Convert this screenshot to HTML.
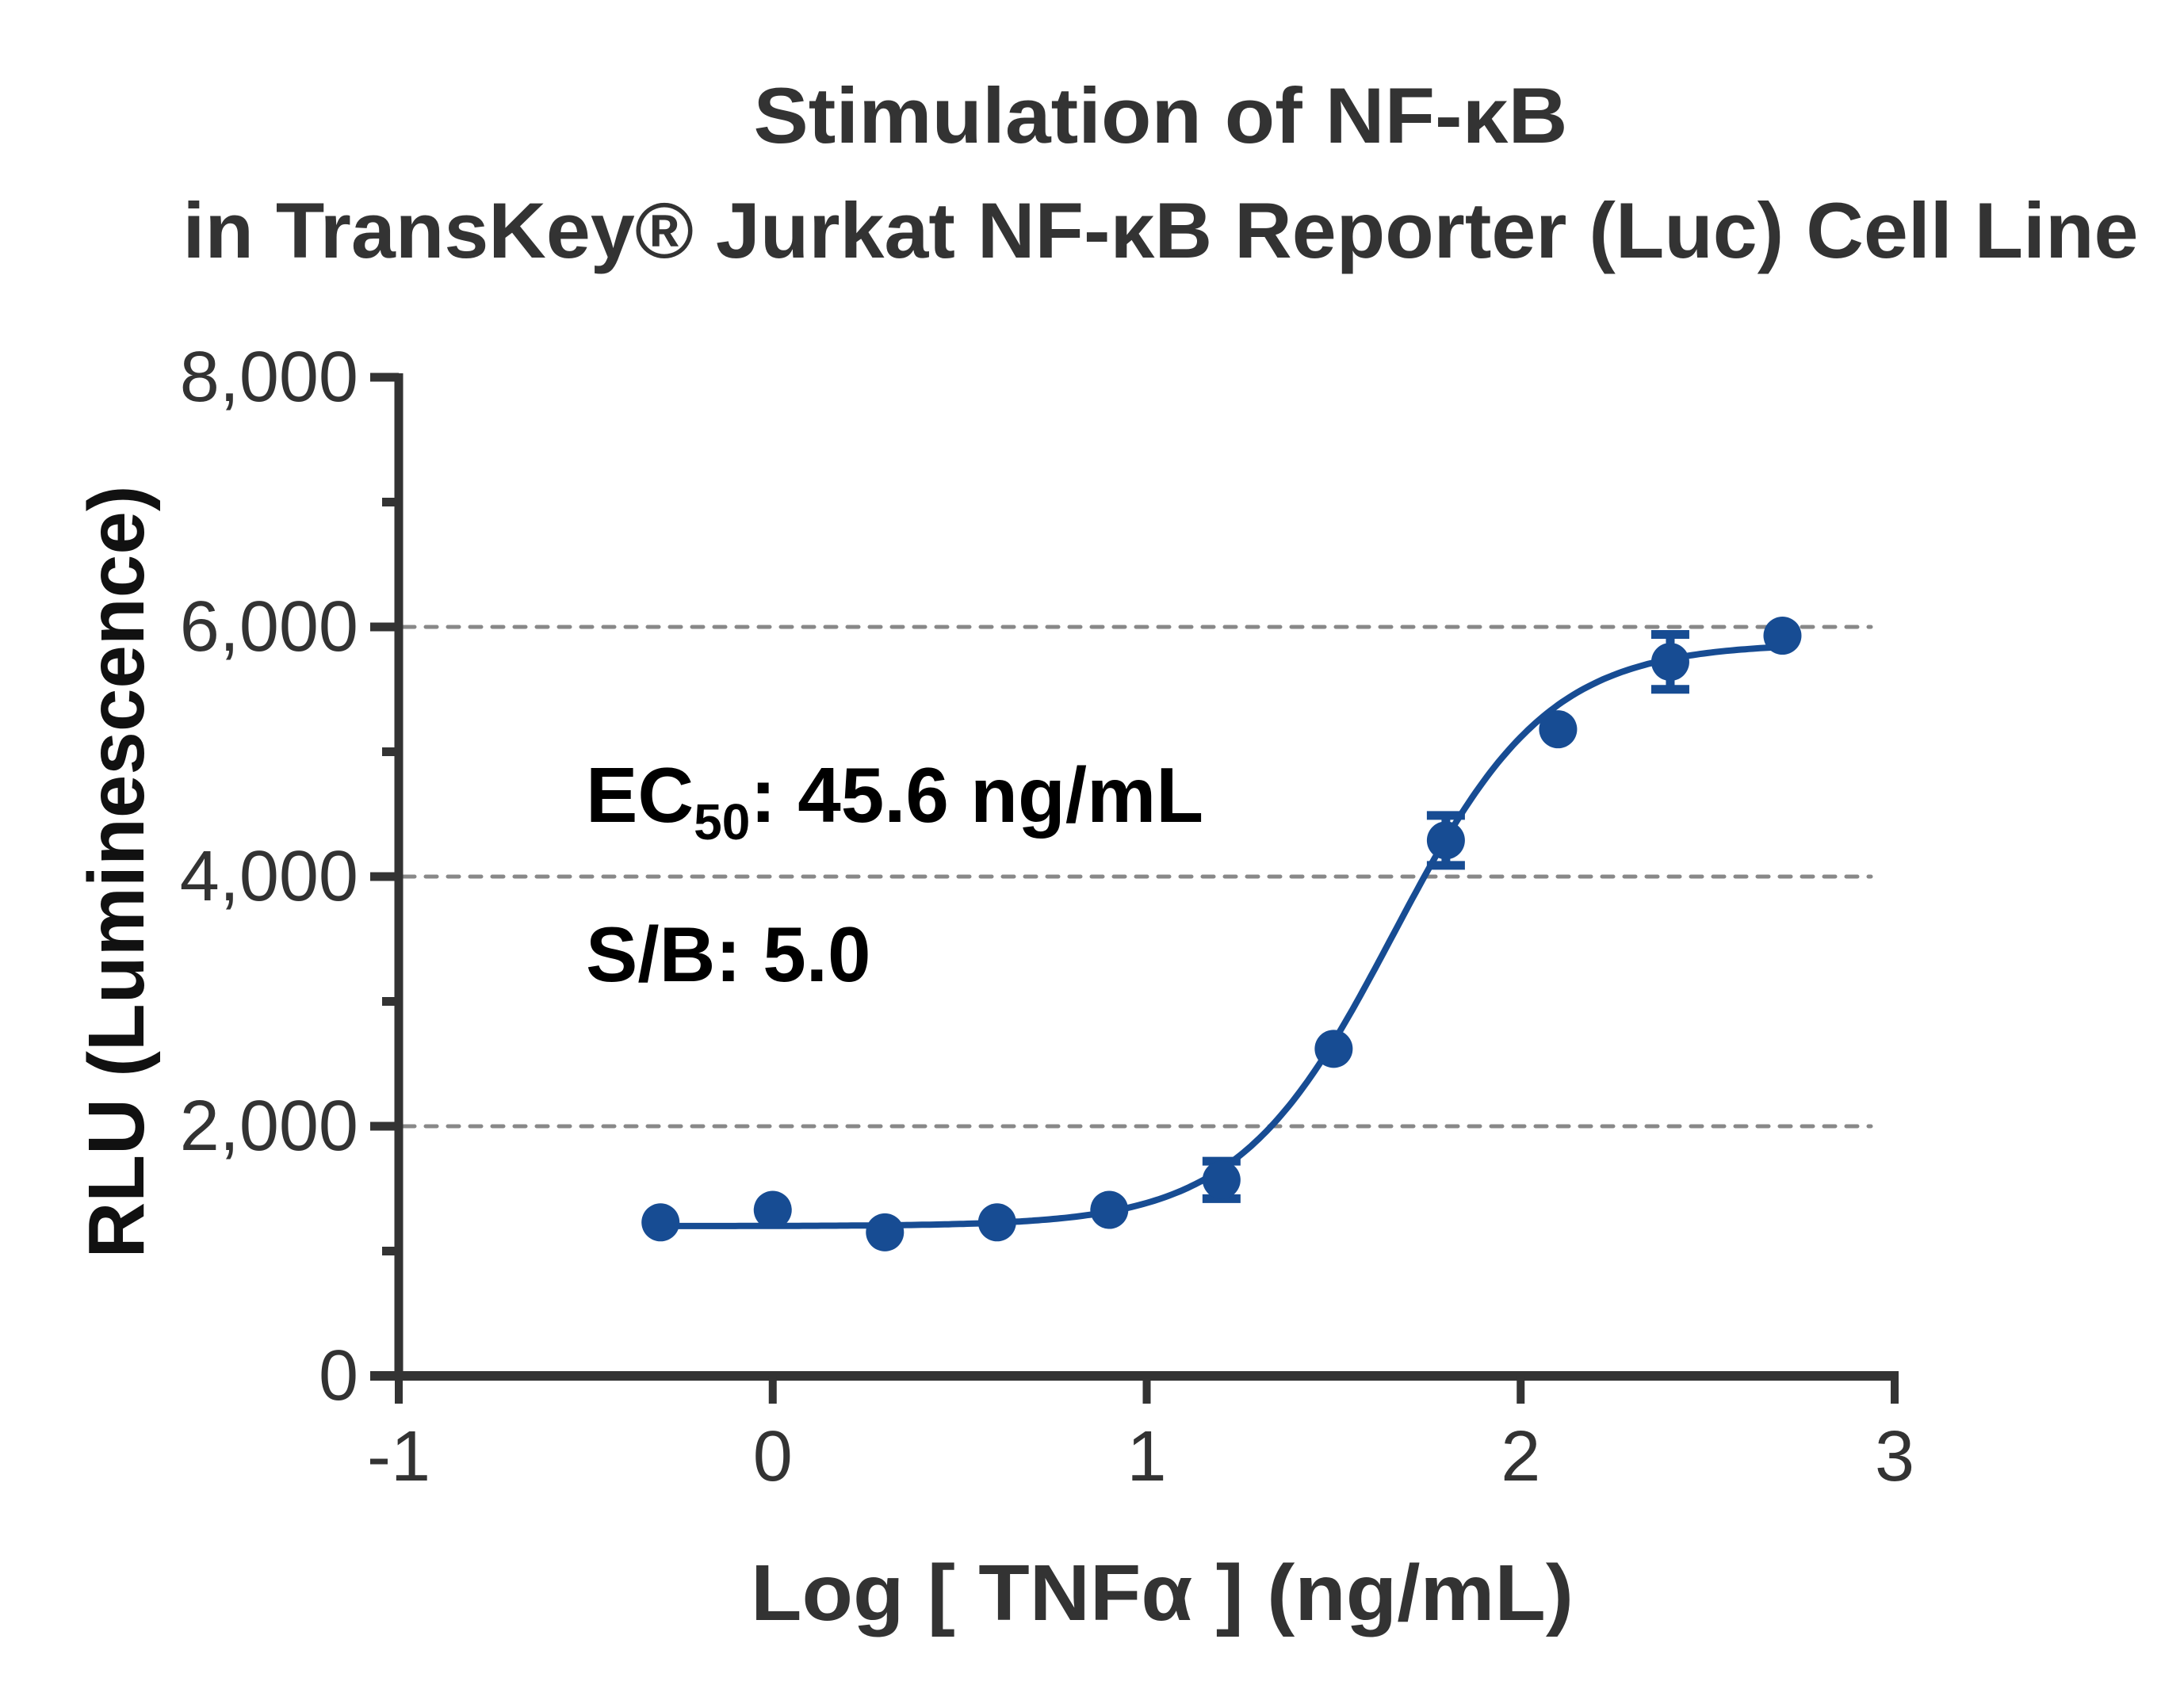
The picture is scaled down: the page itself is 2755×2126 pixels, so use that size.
<!DOCTYPE html>
<html><head><meta charset="utf-8"><style>
html,body{margin:0;padding:0;background:#fff;}
svg{display:block;font-family:"Liberation Sans",Arial,sans-serif;}
</style></head><body>
<svg id="chart" width="2755" height="2126" viewBox="0 0 2755 2126">
<g fill="#333" font-weight="bold" font-size="99" text-anchor="middle">
<text x="1464" y="180" textLength="1027" lengthAdjust="spacingAndGlyphs">Stimulation of  NF-κB</text>
<text x="1464" y="325" textLength="2467" lengthAdjust="spacingAndGlyphs">in TransKey® Jurkat NF-κB Reporter (Luc) Cell Line</text>
</g>
<g id="grid"></g>
<g id="yaxis"></g>
<g id="xaxis"></g>
<text x="147" y="1100" transform="rotate(-90 147 1100)" text-anchor="middle" dominant-baseline="central" font-weight="bold" font-size="100" fill="#111" textLength="975" lengthAdjust="spacingAndGlyphs">RLU (Luminescence)</text>
<text x="1466" y="2044" text-anchor="middle" font-weight="bold" font-size="100" fill="#333" textLength="1038" lengthAdjust="spacingAndGlyphs">Log [ TNFα ]  (ng/mL)</text>
<text x="739" y="1037" font-weight="bold" font-size="98" fill="#000">EC<tspan font-size="64" dy="22">50</tspan><tspan dy="-22">: 45.6 ng/mL</tspan></text>
<text x="739" y="1238" font-weight="bold" font-size="98" fill="#000">S/B: 5.0</text>
<g id="series"></g>
</svg>
<script>
const logConc = [-0.3, 0, 0.3, 0.6, 0.9, 1.2, 1.5, 1.8, 2.1, 2.4, 2.7];
const rlu = [1230, 1330, 1150, 1230, 1330, 1570, 2620, 4290, 5180, 5720, 5930];
const rluErr = [40, 40, 40, 40, 40, 150, 60, 200, 60, 220, 40];
const fitBottom = [1200];
const fitTop = [5870];
const fitLogEC50 = [1.659];
const fitHill = [2.1];
const yTicks = [0, 2000, 4000, 6000, 8000];
const yTickLabels = ["0", "2,000", "4,000", "6,000", "8,000"];
const yMinorTicks = [1000, 3000, 5000, 7000];
const xTicks = [-1, 0, 1, 2, 3];
const xTickLabels = ["-1", "0", "1", "2", "3"];
const gridValues = [2000, 4000, 6000];

const NS = "http://www.w3.org/2000/svg";
const X0 = 503, X1 = 2390, Y0 = 1736, Y1 = 476;
const xs = v => X0 + (v - (-1)) / 4 * (X1 - X0);
const ys = v => Y0 - v / 8000 * (Y0 - Y1);
function mk(tag, attrs, parent) {
  const e = document.createElementNS(NS, tag);
  for (const k in attrs) e.setAttribute(k, attrs[k]);
  parent.appendChild(e);
  return e;
}
const grid = document.getElementById('grid');
gridValues.forEach(v => {
  const l = mk('line', {x1: X0 + 6, x2: 2360, y1: ys(v), y2: ys(v), stroke: '#888', 'stroke-width': 5, 'stroke-dasharray': '14 14', 'stroke-linecap': 'round'}, grid);
  
  
});
const ya = document.getElementById('yaxis');
const yl = mk('line', {x1: X0, x2: X0, y1: Y1 - 5, y2: Y0 + 6, stroke: '#333', 'stroke-width': 11}, ya);


yTicks.forEach((v, i) => {
  const t = mk('line', {x1: 467, x2: X0, y1: ys(v), y2: ys(v), stroke: '#333', 'stroke-width': 11}, ya);
  
  
  const tx = mk('text', {x: 452, y: ys(v), 'text-anchor': 'end', 'dominant-baseline': 'central', 'font-size': 90, fill: '#333'}, ya);
  tx.textContent = yTickLabels[i];
  
  
});
yMinorTicks.forEach(v => {
  const t = mk('line', {x1: 482, x2: X0, y1: ys(v), y2: ys(v), stroke: '#333', 'stroke-width': 11}, ya);
  
  
});
const xa = document.getElementById('xaxis');
const xl = mk('line', {x1: 467, x2: X1 + 5, y1: Y0, y2: Y0, stroke: '#333', 'stroke-width': 12}, xa);


xTicks.forEach((v, i) => {
  const t = mk('line', {x1: xs(v), x2: xs(v), y1: Y0, y2: 1771, stroke: '#333', 'stroke-width': 10}, xa);
  
  
  const tx = mk('text', {x: xs(v), y: 1868, 'text-anchor': 'middle', 'font-size': 90, fill: '#333'}, xa);
  tx.textContent = xTickLabels[i];
  
  
});
const ser = document.getElementById('series');
const f = x => fitBottom[0] + (fitTop[0] - fitBottom[0]) / (1 + Math.pow(10, fitHill[0] * (fitLogEC50[0] - x)));
let d = '';
const xa0 = logConc[0], xa1 = logConc[logConc.length - 1];
for (let i = 0; i <= 300; i++) {
  const x = xa0 + (xa1 - xa0) * i / 300;
  d += (i ? 'L' : 'M') + xs(x).toFixed(1) + ' ' + ys(f(x)).toFixed(1);
}
const curve = mk('path', {d: d, fill: 'none', stroke: '#174c93', 'stroke-width': 8}, ser);


logConc.forEach((x, i) => {
  const cx = xs(x), cy = ys(rlu[i]);
  if (rluErr[i] > 80) {
    const top = ys(rlu[i] + rluErr[i]), bot = ys(rlu[i] - rluErr[i]);
    const eb = mk('path', {d: `M${cx} ${top}L${cx} ${bot}M${cx - 24} ${top}L${cx + 24} ${top}M${cx - 24} ${bot}L${cx + 24} ${bot}`, stroke: '#174c93', 'stroke-width': 11, fill: 'none'}, ser);
    
    
  }
  const c = mk('circle', {cx: cx, cy: cy, r: 24, fill: '#174c93'}, ser);
  
  
});
</script>
</body></html>
